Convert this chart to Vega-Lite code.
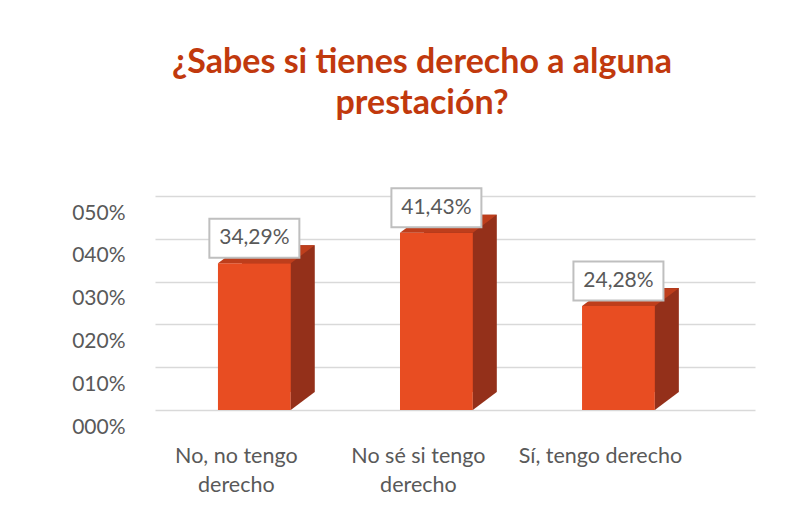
{
  "$schema": "https://vega.github.io/schema/vega-lite/v6.json",
  "width": 600,
  "height": 214,
  "autosize": "none",
  "padding": {"left": 155, "top": 196, "right": 57, "bottom": 102},
  "background": "white",
  "config": {
    "locale": {"number": {"decimal": ",", "thousands": ".", "grouping": [3], "currency": ["", " €"]}},
    "view": {"stroke": null},
    "font": "Lato"
  },
  "title": {
    "text": ["¿Sabes si tienes derecho a alguna", "prestación?"],
    "font": "Lato",
    "fontSize": 34,
    "fontWeight": "bold",
    "color": "#C1390D",
    "lineHeight": 41,
    "offset": 63,
    "dx": -33,
    "anchor": "middle"
  },
  "data": {
    "values": [
      {"cat": "No, no tengo derecho", "v": 0.3429},
      {"cat": "No sé si tengo derecho", "v": 0.4143},
      {"cat": "Sí, tengo derecho", "v": 0.2428}
    ]
  },
  "encoding": {
    "x": {
      "field": "cat",
      "type": "nominal",
      "sort": null,
      "scale": {"paddingInner": 0.6, "paddingOuter": 0.448, "align": 0.386},
      "axis": {
        "title": null,
        "labelAngle": 0,
        "domain": false,
        "ticks": false,
        "labelFont": "Lato",
        "labelFontSize": 21.5,
        "labelColor": "#595959",
        "labelPadding": 35,
        "labelLineHeight": 29,
        "labelOffset": -18,
        "labelLimit": 300,
        "labelExpr": "datum.value == 'No, no tengo derecho' ? ['No, no tengo', 'derecho'] : datum.value == 'No sé si tengo derecho' ? ['No sé si tengo', 'derecho'] : datum.value"
      }
    },
    "y": {
      "field": "v",
      "type": "quantitative",
      "scale": {"domain": [0, 0.5]},
      "axis": {
        "title": null,
        "format": "04.0%",
        "values": [0, 0.1, 0.2, 0.3, 0.4, 0.5],
        "domain": false,
        "ticks": false,
        "labelFont": "Lato",
        "labelFontSize": 21,
        "labelColor": "#595959",
        "labelPadding": 30,
        "labelOffset": 17,
        "gridColor": "#D9D9D9",
        "gridWidth": 1.5
      }
    }
  },
  "layer": [
    {
      "mark": {"type": "bar", "color": "#94301A", "xOffset": 24, "x2Offset": 24, "yOffset": -18, "y2Offset": -18}
    },
    {
      "mark": {"type": "bar", "color": "#E84D22"}
    },
    {
      "mark": {"type": "point", "shape": "M-1,0L-0.342,-0.493L1.658,-0.493L1,0Z", "size": 5300, "filled": true, "fill": "#BE3E1C", "opacity": 1, "strokeWidth": 0}
    },
    {
      "mark": {"type": "point", "shape": "M1,0L1.658,-0.493L1,-0.493Z", "size": 5300, "filled": true, "fill": "#94301A", "opacity": 1, "strokeWidth": 0},
      "encoding": {"y": {"datum": 0}}
    },
    {
      "mark": {"type": "point", "shape": "M-1,-0.433H1V0.433H-1Z", "size": 8100, "filled": true, "fill": "white", "opacity": 1, "stroke": "#BFBFBF", "strokeWidth": 2, "yOffset": -25}
    },
    {
      "mark": {"type": "text", "yOffset": -25, "fontSize": 21, "color": "#595959", "baseline": "middle", "font": "Lato"},
      "encoding": {"text": {"field": "v", "type": "quantitative", "format": ".2%"}}
    }
  ]
}
